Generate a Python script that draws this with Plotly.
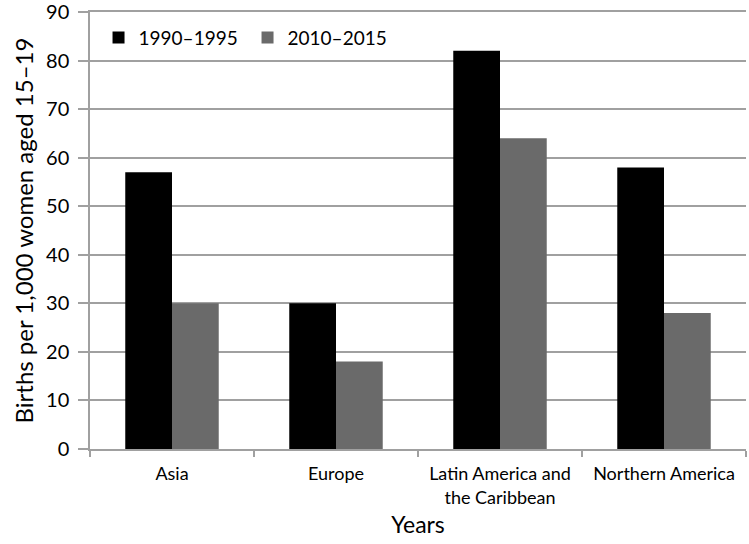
import plotly.graph_objects as go

# dados
regions = ["Asia", "Europe", "Latin America and<br>the Caribbean", "Northern America"]
births_1990 = [57, 30, 82, 58]
births_2010 = [30, 18, 64, 28]
series_names = ["1990\u20131995", "2010\u20132015"]
y_ticks = [0, 10, 20, 30, 40, 50, 60, 70, 80, 90]

FONT = "Lato, 'Open Sans', sans-serif"
GRID = "#a0a0a0"

fig = go.Figure()
fig.add_trace(go.Bar(x=regions, y=births_1990, name=series_names[0],
                     marker=dict(color="#000000", line=dict(width=0))))
fig.add_trace(go.Bar(x=regions, y=births_2010, name=series_names[1],
                     marker=dict(color="#6a6a6a", line=dict(width=0))))

fig.update_layout(
    width=749, height=544,
    margin=dict(l=90, r=3, t=12, b=95),
    paper_bgcolor="white", plot_bgcolor="white",
    barmode="group", bargap=0.43, bargroupgap=0,
    font=dict(family=FONT, color="black"),
    legend=dict(
        orientation="h", x=0.013, y=0.985, xanchor="left", yanchor="top",
        font=dict(size=19, family=FONT), bgcolor="rgba(0,0,0,0)",
        entrywidth=104, itemwidth=30,
    ),
    xaxis=dict(
        automargin=False, mirror=True,  # linha do topo (90)
        showline=True, linecolor=GRID, linewidth=1.5,
        ticks="outside", tickson="boundaries", ticklen=6, tickcolor=GRID, tickwidth=1.5,
        tickfont=dict(size=18), ticklabelstandoff=8,
        title=dict(text="Years", font=dict(size=23), standoff=10),
    ),
    yaxis=dict(
        automargin=False, ticklabeloverflow="allow",
        range=[0, 90], tickmode="array", tickvals=y_ticks,
        showline=True, linecolor=GRID, linewidth=1.5,
        showgrid=True, gridcolor=GRID, gridwidth=1.5,
        ticks="outside", ticklen=10, tickcolor=GRID, tickwidth=1.5,
        tickfont=dict(size=20), ticklabelstandoff=5, zeroline=False,
        title=dict(text="Births per 1,000 women aged 15\u201319", font=dict(size=24), standoff=6),
    ),
)

# a página tem margem de 8px no body; remover
fig.write_html("out.html", config={"displayModeBar": False},
               post_script="document.body.style.margin='0';")
